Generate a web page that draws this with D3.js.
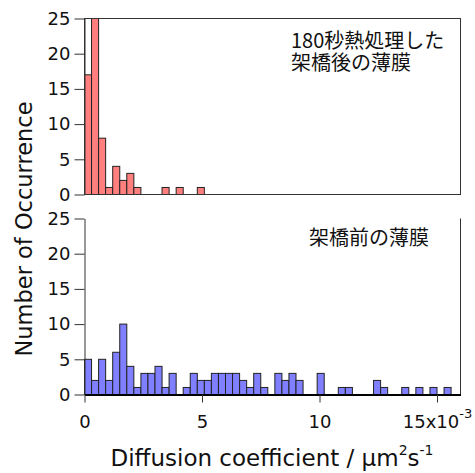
<!DOCTYPE html>
<html>
<head>
<meta charset="utf-8">
<script src="https://cdn.jsdelivr.net/npm/d3@7"></script>
<style>
  body { margin: 0; background: #fff; }
  svg { display: block; }
</style>
</head>
<body>
<svg id="chart" width="475" height="473"></svg>
<script>
"use strict";

// Histogram data (bin width 0.3 x10^-3 um^2/s, starting at 0)
const binWidth = 0.3;
const afterCounts = [17, 25, 8, 1, 4, 2, 3, 1, 0, 0, 0, 1, 0, 1, 0, 0, 1];
const beforeCounts = [
  5, 2, 5, 2, 6, 10, 4, 1, 3, 3, 4, 1, 3, 0, 1, 3, 2, 2, 3, 3, 3, 3, 2, 1, 3, 1,
  0, 3, 2, 3, 2, 0, 0, 3, 0, 0, 1, 1, 0, 0, 0, 2, 1, 0, 0, 1, 0, 1, 0, 1, 0, 1,
];
const xTicks = [0, 5, 10, 15];
const yTicks = [0, 5, 10, 15, 20, 25];
const afterLabel = ["180秒熱処理した", "架橋後の薄膜"];
const beforeLabel = ["架橋前の薄膜"];

const latin = "'DejaVu Sans', sans-serif";
const cjk = "'Noto Sans CJK JP', sans-serif";

const svg = d3.select("#chart");

const x = d3.scaleLinear().domain([0, 16]).range([84, 460]);
const yTop = d3.scaleLinear().domain([0, 25]).range([194.5, 18.5]);
const yBot = d3.scaleLinear().domain([0, 25]).range([394.5, 218.5]);

function bars(counts, y, fill) {
  const bins = counts
    .map((c, i) => ({ x0: i * binWidth, x1: (i + 1) * binWidth, count: c }))
    .filter((d) => d.count > 0);
  svg
    .append("g")
    .selectAll("rect")
    .data(bins)
    .join("rect")
    .attr("x", (d) => x(d.x0) + 0.5)
    .attr("y", (d) => y(d.count))
    .attr("width", (d) => x(d.x1) - x(d.x0))
    .attr("height", (d) => y(0) - y(d.count))
    .attr("fill", fill)
    .attr("stroke", "#222")
    .attr("stroke-width", 1);
}

function yAxis(y) {
  const g = svg
    .append("g")
    .attr("transform", "translate(84.5,0)")
    .call(d3.axisLeft(y).tickValues(yTicks).tickSize(10).tickSizeOuter(0).tickPadding(4));
  g.selectAll("path, line").attr("stroke", "#333");
  g.selectAll("text")
    .attr("font-family", latin)
    .attr("font-size", 18)
    .attr("fill", "#111");
  return g;
}

// top panel: after crosslinking
bars(afterCounts, yTop, "#ff7f7f");
svg
  .append("rect")
  .attr("x", x(0) + 0.5)
  .attr("y", yTop(25))
  .attr("width", x(16) - x(0))
  .attr("height", yTop(0) - yTop(25))
  .attr("fill", "none")
  .attr("stroke", "#333");
yAxis(yTop);

// bottom panel: before crosslinking
bars(beforeCounts, yBot, "#7f7fff");
svg
  .append("line")
  .attr("x1", x(16) + 0.5)
  .attr("x2", x(16) + 0.5)
  .attr("y1", yBot(25))
  .attr("y2", yBot(0))
  .attr("stroke", "#333");
yAxis(yBot);

const xAxis = svg
  .append("g")
  .attr("transform", `translate(0.5,${yBot(0)})`)
  .call(d3.axisBottom(x).tickValues(xTicks).tickSize(8).tickSizeOuter(0).tickPadding(13));
xAxis.select(".domain").attr("stroke", "#000").attr("stroke-width", 2);
xAxis.selectAll(".tick line").attr("stroke", "#333");
xAxis
  .selectAll("text")
  .attr("font-family", latin)
  .attr("font-size", 18)
  .attr("fill", "#111")
  .each(function (d) {
    if (d === 15) {
      const t = d3.select(this).text("15x10");
      t.append("tspan").attr("dy", -10).attr("font-size", 13).text("-3");
    }
  });

// panel labels
function note(lines, px, py) {
  svg
    .append("text")
    .attr("font-family", cjk)
    .attr("font-size", 20)
    .attr("fill", "#111")
    .selectAll("tspan")
    .data(lines)
    .join("tspan")
    .attr("x", px)
    .attr("y", (d, i) => py + i * 22.5)
    .text((d) => d);
}
note(afterLabel, 291, 47.5);
note(beforeLabel, 309, 245);

// axis titles
const xt = svg
  .append("text")
  .attr("x", 272)
  .attr("y", 466)
  .attr("text-anchor", "middle")
  .attr("font-family", latin)
  .attr("font-size", 23)
  .attr("fill", "#111")
  .text("Diffusion coefficient / μm");
xt.append("tspan").attr("dy", -11).attr("font-size", 14).text("2");
xt.append("tspan").attr("dy", 11).text("s");
xt.append("tspan").attr("dy", -11).attr("font-size", 14).text("-1");

svg
  .append("text")
  .attr("transform", "translate(32,229) rotate(-90)")
  .attr("text-anchor", "middle")
  .attr("font-family", latin)
  .attr("font-size", 22.5)
  .attr("fill", "#111")
  .text("Number of Occurrence");
</script>
</body>
</html>
